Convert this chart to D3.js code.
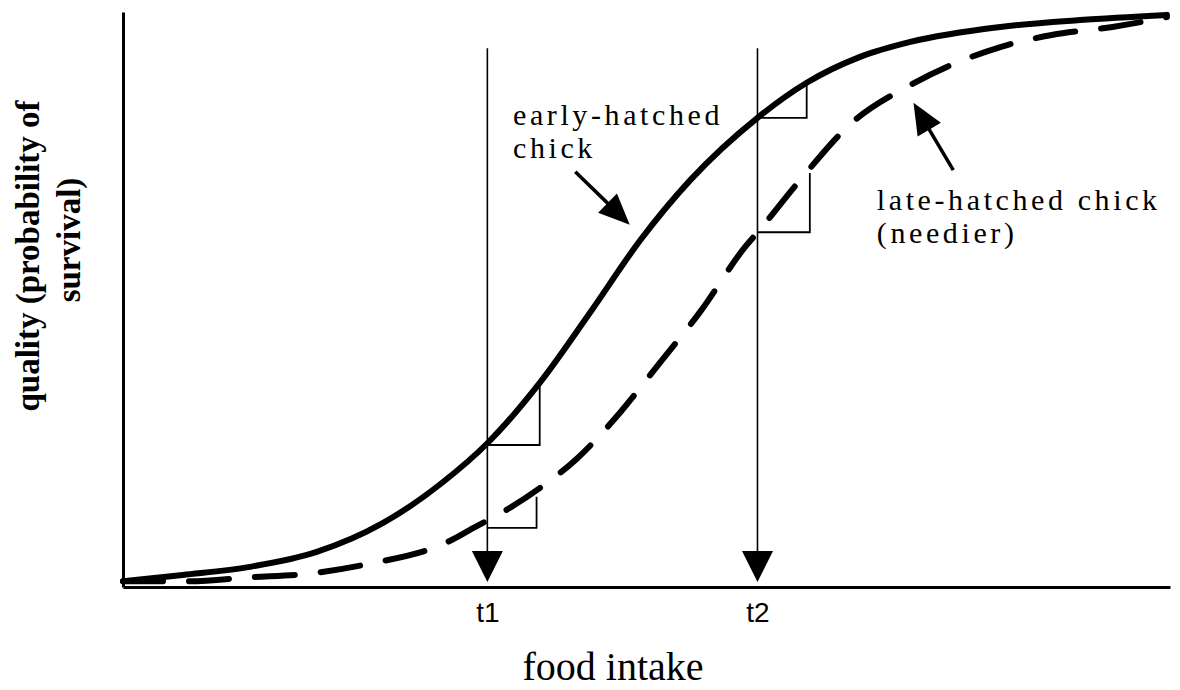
<!DOCTYPE html>
<html>
<head>
<meta charset="utf-8">
<script src="https://cdn.jsdelivr.net/npm/d3@7"></script>
<style>
  body { margin: 0; background: #fff; }
</style>
</head>
<body>
<div id="chart"></div>
<script>
// food intake (0-100) vs quality (0-1)
var earlyX = [0, 5.7, 12.1, 18.5, 24.8, 30.6, 34.8, 39.8, 44.6, 49.4, 54.2, 60.6, 65.3, 70.4, 75.2, 83.8, 91.4, 99.7];
var earlyY = [0.010, 0.021, 0.035, 0.061, 0.111, 0.183, 0.250, 0.355, 0.477, 0.603, 0.708, 0.816, 0.877, 0.922, 0.948, 0.974, 0.986, 0.995];

var lateX = [0, 6.4, 12.1, 17.6, 23.4, 31.2, 33.1, 36.8, 39.8, 43.4, 47.5, 51.1, 55.1, 59.4, 60.8, 64.5, 69.6, 75.2, 83.8, 88.7, 94.5, 99.7];
var lateY = [0.010, 0.010, 0.017, 0.023, 0.040, 0.080, 0.099, 0.136, 0.172, 0.224, 0.304, 0.386, 0.478, 0.591, 0.621, 0.704, 0.807, 0.873, 0.939, 0.960, 0.974, 0.991];

var markerX = [34.8, 60.6];
var markerLabels = ["t1", "t2"];

// little slope triangles at t1 / t2
var slopeX0 = [34.8, 60.6, 34.8, 60.6];
var slopeX1 = [39.8, 65.3, 39.5, 65.6];
var slopeY0 = [0.247, 0.816, 0.103, 0.617];
var slopeY1 = [0.355, 0.875, 0.157, 0.720];

var width = 1180, height = 690;

var svg = d3.select("#chart")
  .append("svg")
    .attr("width", width)
    .attr("height", height);

var x = d3.scaleLinear().domain([0, 100]).range([123, 1170]);
var y = d3.scaleLinear().domain([0, 1]).range([587, 12]);

function arrowHead(x1, y1, x2, y2, len, half) {
  var dx = x2 - x1, dy = y2 - y1, d = Math.sqrt(dx * dx + dy * dy);
  var ux = dx / d, uy = dy / d;
  var bx = x2 - ux * len, by = y2 - uy * len;
  return [[x2, y2], [bx - uy * half, by + ux * half], [bx + uy * half, by - ux * half]];
}

// axes
var xAxis = svg.append("g")
    .attr("transform", "translate(0," + y(0) + ")")
    .call(d3.axisBottom(x).tickValues(markerX)
      .tickFormat(function(d, i) { return markerLabels[i]; })
      .tickSize(0).tickPadding(15));
xAxis.select(".domain").attr("stroke", "#000").attr("stroke-width", 3);
xAxis.selectAll("text")
    .attr("font-family", "'Liberation Sans', Arial, sans-serif")
    .attr("font-size", 28)
    .attr("fill", "#000");

var yAxis = svg.append("g")
    .attr("transform", "translate(" + x(0) + ",0)")
    .call(d3.axisLeft(y).tickValues([]).tickSizeOuter(0));
yAxis.select(".domain").attr("stroke", "#000").attr("stroke-width", 3);

// vertical marker lines with arrows
markerX.forEach(function(m) {
  svg.append("line")
    .attr("x1", x(m)).attr("x2", x(m))
    .attr("y1", y(0.937)).attr("y2", y(0) - 34)
    .attr("stroke", "#000").attr("stroke-width", 1.6);
  svg.append("polygon")
    .attr("points", arrowHead(x(m), y(0.937), x(m), y(0) - 5, 31, 15.5).join(" "))
    .attr("fill", "#000");
});

// slope triangles
slopeX0.forEach(function(v, i) {
  svg.append("path")
    .attr("d", "M" + x(v) + "," + y(slopeY0[i]) +
               "H" + x(slopeX1[i]) + "V" + y(slopeY1[i]))
    .attr("fill", "none")
    .attr("stroke", "#000")
    .attr("stroke-width", 1.8);
});

var line = d3.line()
    .x(function(d) { return x(d[0]); })
    .y(function(d) { return y(d[1]); })
    .curve(d3.curveMonotoneX);

svg.append("path")
  .datum(d3.zip(earlyX, earlyY))
  .attr("fill", "none")
  .attr("stroke", "#000")
  .attr("stroke-width", 6)
  .attr("stroke-linecap", "round")
  .attr("d", line);

svg.append("path")
  .datum(d3.zip(lateX, lateY))
  .attr("fill", "none")
  .attr("stroke", "#000")
  .attr("stroke-width", 6)
  .attr("stroke-linecap", "round")
  .attr("stroke-dasharray", "40,26")
  .attr("d", line);

// annotation arrows
var notes = [
  {from: [43.2, 0.722], to: [48.4, 0.630]},
  {from: [79.3, 0.725], to: [75.5, 0.842]}
];
notes.forEach(function(n) {
  var x1 = x(n.from[0]), y1 = y(n.from[1]), x2 = x(n.to[0]), y2 = y(n.to[1]);
  svg.append("line")
    .attr("x1", x1).attr("y1", y1)
    .attr("x2", x1 + (x2 - x1) * 0.7).attr("y2", y1 + (y2 - y1) * 0.7)
    .attr("stroke", "#000").attr("stroke-width", 3.5);
  svg.append("polygon")
    .attr("points", arrowHead(x1, y1, x2, y2, 31, 13.5).join(" "))
    .attr("fill", "#000");
});

var serif = "'Liberation Serif', 'Times New Roman', serif";

function label(lines, px, py, lh) {
  var t = svg.append("text")
    .attr("font-family", serif)
    .attr("font-size", 30)
    .attr("letter-spacing", 3.6)
    .attr("fill", "#000");
  lines.forEach(function(s, i) {
    t.append("tspan").attr("x", px).attr("y", py + i * lh).text(s);
  });
}
label(["early-hatched", "chick"], x(37.25), 125, 33);
label(["late-hatched chick", "(needier)"], x(72.0), 210, 33);

// axis titles
svg.append("text")
  .attr("x", 613).attr("y", 680)
  .attr("text-anchor", "middle")
  .attr("font-family", serif)
  .attr("font-size", 40)
  .attr("fill", "#000")
  .text("food intake");

svg.append("text")
  .attr("transform", "translate(39,256) rotate(-90)")
  .attr("text-anchor", "middle")
  .attr("font-family", serif)
  .attr("font-weight", "bold")
  .attr("font-size", 33)
  .attr("fill", "#000")
  .text("quality (probability of");

svg.append("text")
  .attr("transform", "translate(80,240) rotate(-90)")
  .attr("text-anchor", "middle")
  .attr("font-family", serif)
  .attr("font-weight", "bold")
  .attr("font-size", 33)
  .attr("fill", "#000")
  .text("survival)");
</script>
</body>
</html>
